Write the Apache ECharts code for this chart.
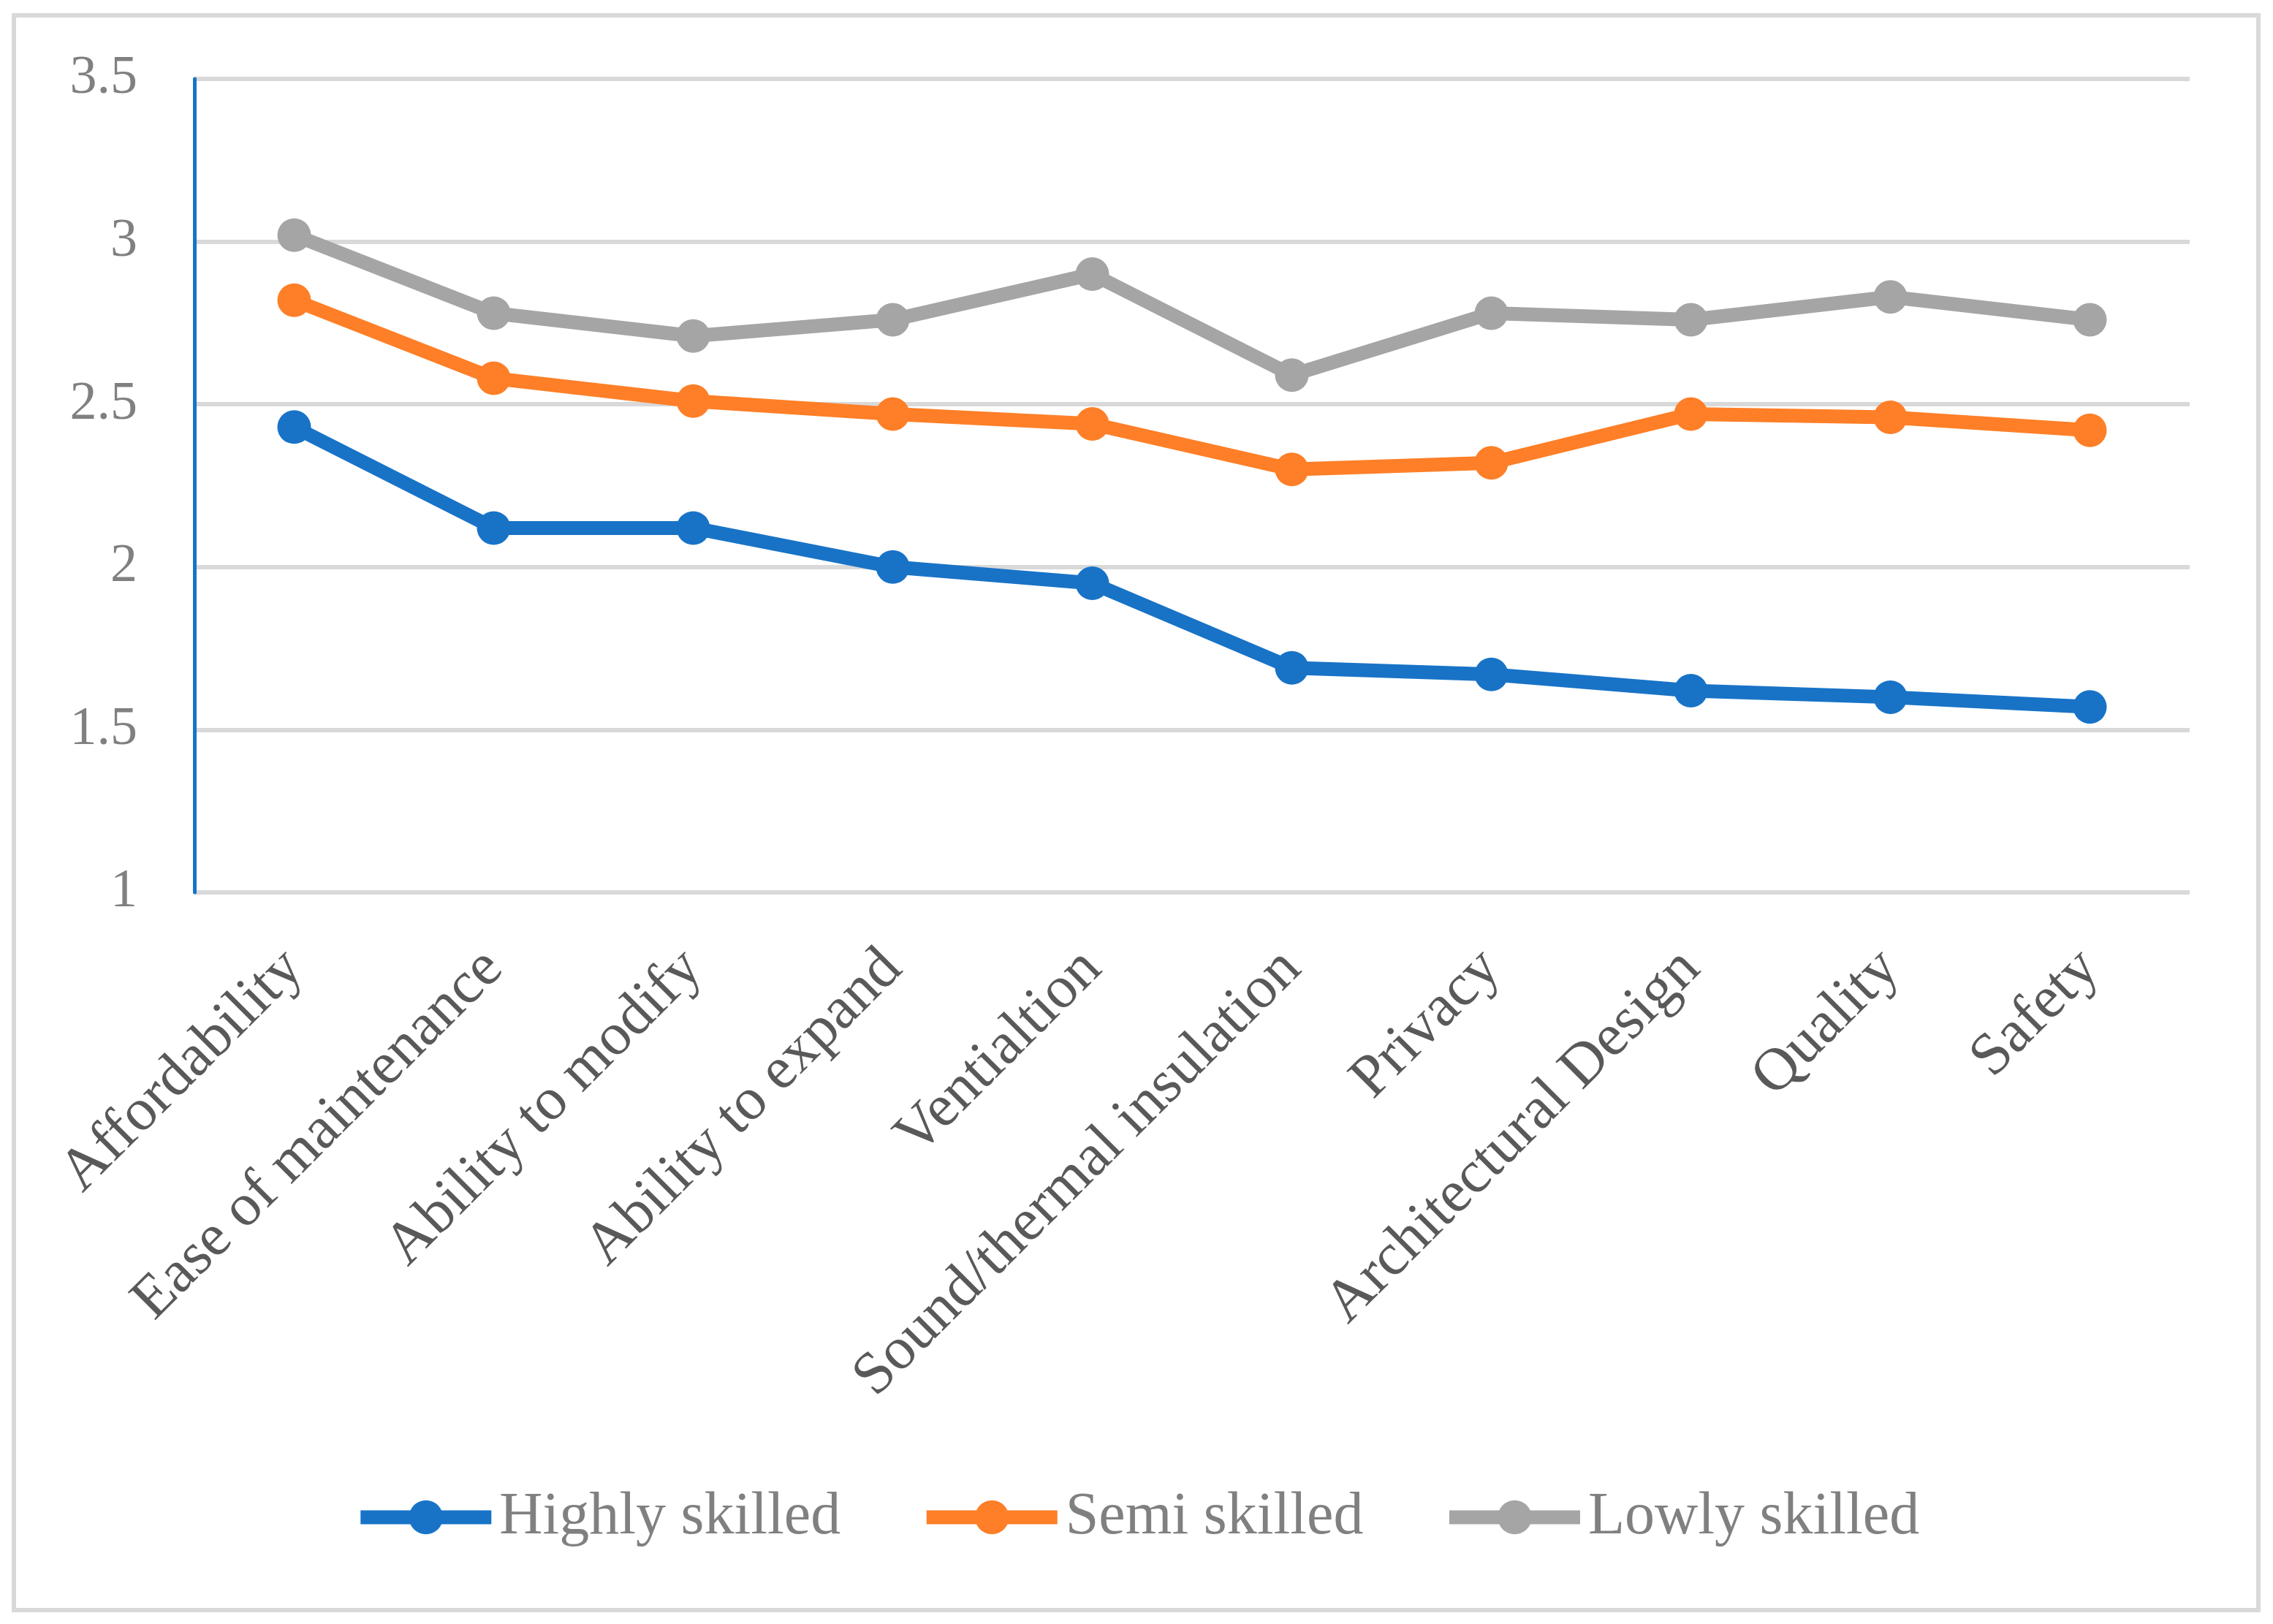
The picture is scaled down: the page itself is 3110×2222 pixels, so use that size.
<!DOCTYPE html>
<html>
<head>
<meta charset="utf-8">
<script src="https://cdn.jsdelivr.net/npm/echarts@6/dist/echarts.min.js"></script>
<style>
html,body{margin:0;padding:0;background:#fff;}
#chart{width:3110px;height:2222px;}
</style>
</head>
<body>
<div id="chart"></div>
<script>
const categories = ["Affordability","Ease of maintenance","Ability to modify","Ability to expand","Ventialtion","Sound/thermal insulation","Privacy","Architectural Design","Quality","Safety"];
const highlySkilled = [2.43, 2.12, 2.12, 2.00, 1.95, 1.69, 1.67, 1.62, 1.60, 1.57];
const semiSkilled   = [2.82, 2.58, 2.51, 2.47, 2.44, 2.30, 2.32, 2.47, 2.46, 2.42];
const lowlySkilled  = [3.02, 2.78, 2.71, 2.76, 2.90, 2.59, 2.78, 2.76, 2.83, 2.76];
const seriesNames = ["Highly skilled","Semi skilled","Lowly skilled"];
const colors = ["#1873c7","#fe7f27","#a5a5a5"];

const chart = echarts.init(document.getElementById('chart'), null, {renderer:'canvas'});
const serif = "'Liberation Serif', 'DejaVu Serif', serif";
function mk(name, data, color){
  return {
    name, type:'line', data,
    symbol:'circle', symbolSize:46,
    lineStyle:{width:19,color},
    itemStyle:{color},
    z: 3
  };
}
chart.setOption({
  animation:false,
  backgroundColor:'#ffffff',
  color: colors,
  graphic:[{
    type:'rect', left:16, top:18, z:-1,
    shape:{x:0,y:0,width:3071,height:2182},
    style:{fill:null, stroke:'#d9d9d9', lineWidth:6}
  }],
  grid:{left:266, right:114, top:108, bottom:1001, containLabel:false},
  legend:{
    bottom:100, left:'center',
    itemWidth:179, itemHeight:58, itemGap:108,
    lineStyle:{width:19},
    textStyle:{fontFamily:serif, fontSize:82, color:'#808080', padding:[0,0,0,6]},
    data: seriesNames
  },
  xAxis:{
    type:'category', data:categories, boundaryGap:true,
    axisLine:{show:false}, axisTick:{show:false},
    axisLabel:{rotate:45, interval:0, margin:92, fontFamily:serif, fontSize:82, color:'#595959'}
  },
  yAxis:{
    type:'value', min:1, max:3.5, interval:0.5,
    axisLine:{show:true, lineStyle:{color:'#1873c7', width:5}},
    axisTick:{show:false},
    splitLine:{lineStyle:{color:'#d9d9d9', width:6}},
    axisLabel:{margin:78, fontFamily:serif, fontSize:74, color:'#808080',
      formatter: v => String(v)}
  },
  series:[
    mk(seriesNames[0], highlySkilled, colors[0]),
    mk(seriesNames[1], semiSkilled, colors[1]),
    mk(seriesNames[2], lowlySkilled, colors[2])
  ]
});
</script>
</body>
</html>
